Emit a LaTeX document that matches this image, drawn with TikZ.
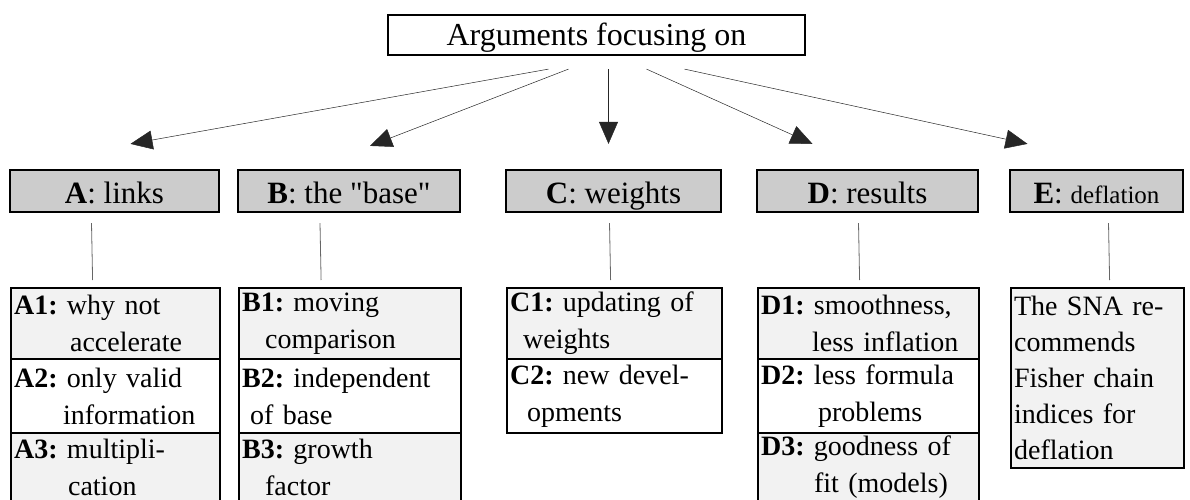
\documentclass[tikz,border=0pt]{standalone}
\usepackage{fontspec}
\setmainfont{Liberation Serif}
\usetikzlibrary{arrows.meta,calc}

\definecolor{headgray}{gray}{0.8}
\definecolor{rowgray}{gray}{0.95}

\begin{document}
\frenchspacing
\begin{tikzpicture}[x=1pt,y=-1pt,
    box/.style={draw,line width=2.2pt,inner sep=0pt},
    titlebox/.style={box,minimum width=417pt,minimum height=40pt,text height=30pt,text depth=8pt,font=\fontsize{32}{36}\selectfont},
    headbox/.style={box,fill=headgray,minimum height=42pt,text height=30pt,text depth=6pt,font=\fontsize{31}{36}\selectfont},
    cell/.style={box,anchor=north west,align=left,inner xsep=3pt,font=\fontsize{28}{37}\selectfont},
    link/.style={draw=black!85,line width=0.5pt,-{Triangle[length=22pt,width=19pt]}},
    stem/.style={draw=black!60,line width=0.8pt}]
    \clip (0,0) rectangle (1190,500);

    % Title
    \node[titlebox] (top) at (596.5,35) {Arguments focusing on};

    % Headers
    \node[headbox,minimum width=209pt] (A) at (114.5,191) {\textbf{A}: links};
    \node[headbox,minimum width=222pt] (B) at (349,191) {\textbf{B}: the \textquotedbl base\textquotedbl};
    \node[headbox,minimum width=215pt] (C) at (613.5,191) {\textbf{C}: weights};
    \node[headbox,minimum width=221pt] (D) at (867.5,191) {\textbf{D}: results};
    \node[headbox,minimum width=173pt] (E) at (1096.5,191) {\textbf{E}: {\fontsize{25}{28}\selectfont deflation}};

    % Arrows from the title
    \draw[link] ($(top.south)+(-48,13)$) -- ($(A.north)+(16,-25)$);
    \draw[link] ($(top.south)+(-28,13)$) -- ($(B.north)+(21,-23)$);
    \draw[link] ($(top.south)+(12,13)$) -- ($(C.north)+(-5,-25)$);
    \draw[link] ($(top.south)+(50,13)$) -- ($(D.north)+(-55,-25)$);
    \draw[link] ($(top.south)+(88,13)$) -- ($(E.north)+(-69,-25)$);

    % Column A
    \node[cell,fill=rowgray,text width=203pt,minimum height=71pt] (a1) at (10,287) {\textbf{A1:} why not\\\hspace*{56pt}accelerate};
    \node[cell,fill=white,text width=203pt,minimum height=74pt] (a2) at (10,358) {\textbf{A2:} only valid\\\hspace*{49pt}information};
    \node[cell,fill=rowgray,text width=203pt,minimum height=69pt] (a3) at (10,432) {\textbf{A3:} multipli-\\\hspace*{54pt}cation};

    % Column B
    \node[cell,fill=rowgray,text width=216pt,minimum height=71pt] (b1) at (238,287) {\textbf{B1:} moving\\\hspace*{23pt}comparison};
    \node[cell,fill=white,text width=216pt,minimum height=74pt] (b2) at (238,358) {\textbf{B2:} independent\\\hspace*{8pt}of base};
    \node[cell,fill=rowgray,text width=216pt,minimum height=69pt] (b3) at (238,432) {\textbf{B3:} growth\\\hspace*{23pt}factor};

    % Column C
    \node[cell,fill=rowgray,text width=209pt,minimum height=71pt] (c1) at (506,287) {\textbf{C1:} updating of\\\hspace*{13pt}weights};
    \node[cell,fill=white,text width=209pt,minimum height=74pt] (c2) at (506,358) {\textbf{C2:} new devel-\\\hspace*{17pt}opments};

    % Column D
    \node[cell,fill=rowgray,text width=215pt,minimum height=71pt] (d1) at (757,287) {\textbf{D1:} smoothness,\\\hspace*{51pt}less inflation};
    \node[cell,fill=white,text width=215pt,minimum height=74pt] (d2) at (757,358) {\textbf{D2:} less formula\\\hspace*{57pt}problems};
    \node[cell,fill=rowgray,text width=215pt,minimum height=69pt] (d3) at (757,432) {\textbf{D3:} goodness of\\\hspace*{53pt}fit (models)};

    % Column E
    \node[cell,fill=rowgray,text width=167pt,minimum height=180pt,font=\fontsize{28}{36}\selectfont] (e1) at (1010,287) {The SNA re-\\commends\\Fisher chain\\indices for\\deflation};

    % Stems from headers to lists
    \draw[stem] ($(A.south)+(-23,10)$) -- ($(a1.north)+(-23,-7)$);
    \draw[stem] ($(B.south)+(-29,10)$) -- ($(b1.north)+(-29,-7)$);
    \draw[stem] ($(C.south)+(-4,10)$) -- ($(c1.north)+(-4,-7)$);
    \draw[stem] ($(D.south)+(-9,10)$) -- ($(d1.north)+(-9,-7)$);
    \draw[stem] ($(E.south)+(12,10)$) -- ($(e1.north)+(12,-7)$);
\end{tikzpicture}
\end{document}
